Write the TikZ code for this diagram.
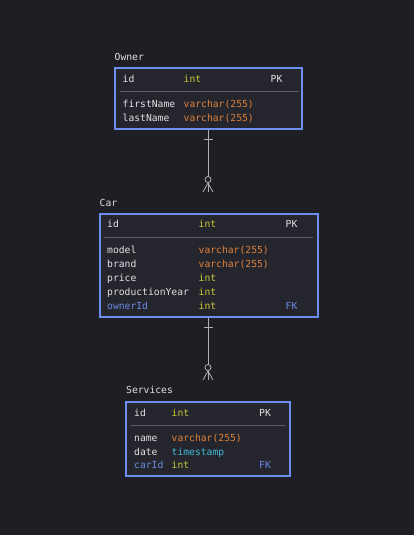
\documentclass[tikz,border=0pt]{standalone}
\usepackage{fontspec}
\setmonofont{DejaVu Sans Mono}
\usetikzlibrary{positioning}
\definecolor{bgdark}{HTML}{1E1F25}
\definecolor{boxfill}{HTML}{25262D}
\definecolor{boxline}{HTML}{6C8EF0}
\definecolor{rowtext}{HTML}{E2E2E2}
\definecolor{intcol}{HTML}{CACA36}
\definecolor{strcol}{HTML}{E0823A}
\definecolor{timecol}{HTML}{3FBCD6}
\definecolor{keycol}{HTML}{6A8AE6}
\definecolor{linkcol}{HTML}{B0B0B4}
\definecolor{sepcol}{HTML}{5C5D64}
\tikzset
{
    entity/.style   = {rectangle, draw=boxline, line width=2pt, fill=boxfill, inner sep=0pt},
    tabtitle/.style = {anchor=base west, inner sep=0pt, text=rowtext, font=\ttfamily\fontsize{9.7}{11}\selectfont},
    field/.style    = {tabtitle},
    inttype/.style  = {tabtitle, text=intcol},
    strtype/.style  = {tabtitle, text=strcol},
    timetype/.style = {tabtitle, text=timecol},
    fkey/.style     = {tabtitle, text=keycol},
    sep/.style      = {draw=sepcol, line width=0.8pt},
    link/.style     = {draw=linkcol, line width=0.8pt},
}
\begin{document}
\begin{tikzpicture}[x=1pt, y=-1pt]
		\fill[bgdark] (0,0) rectangle (414,535);
		\useasboundingbox (0,0) rectangle (414,535);
		
		% Owner
		\node[tabtitle] (ownerT) at (114.5,60) {Owner};
		\node[entity, minimum width=187pt, minimum height=61pt] (owner) at (208.3,98.5) {};
		\node[field] (o1) at (122.5,82) {id};
		\node[inttype] (o1t) at (183.5,82) {int};
		\node[field] (o1k) at (270.5,82) {PK};
		\draw[sep] (119.5,91.5) -- (299,91.5);
		\node[field] (o2) at (122.5,107) {firstName};
		\node[strtype] (o2t) at (183.5,107) {varchar(255)};
		\node[field] (o3) at (122.5,121) {lastName};
		\node[strtype] (o3t) at (183.5,121) {varchar(255)};
		
		% Car
		\node[tabtitle] (carT) at (99.5,206) {Car};
		\node[entity, minimum width=218pt, minimum height=103pt] (car) at (208.8,265.5) {};
		\node[field] (c1) at (107,227.7) {id};
		\node[inttype] (c1t) at (198.5,227.7) {int};
		\node[field] (c1k) at (285.5,227.7) {PK};
		\draw[sep] (104,237.5) -- (313,237.5);
		\node[field] (c2) at (107,253) {model};
		\node[strtype] (c2t) at (198.5,253) {varchar(255)};
		\node[field] (c3) at (107,267) {brand};
		\node[strtype] (c3t) at (198.5,267) {varchar(255)};
		\node[field] (c4) at (107,281) {price};
		\node[inttype] (c4t) at (198.5,281) {int};
		\node[field] (c5) at (107,295) {productionYear};
		\node[inttype] (c5t) at (198.5,295) {int};
		\node[fkey] (c6) at (107,309) {ownerId};
		\node[inttype] (c6t) at (198.5,309) {int};
		\node[fkey] (c6k) at (285.5,309) {FK};
		
		% Services
		\node[tabtitle] (servT) at (126,393.7) {Services};
		\node[entity, minimum width=164pt, minimum height=74pt] (serv) at (208,439) {};
		\node[field] (s1) at (134,416) {id};
		\node[inttype] (s1t) at (171.5,416) {int};
		\node[field] (s1k) at (259,416) {PK};
		\draw[sep] (130,425.5) -- (286,425.5);
		\node[field] (s2) at (134,441) {name};
		\node[strtype] (s2t) at (171.5,441) {varchar(255)};
		\node[field] (s3) at (134,455) {date};
		\node[timetype] (s3t) at (171.5,455) {timestamp};
		\node[fkey] (s4) at (134,468.7) {carId};
		\node[inttype] (s4t) at (171.5,468.7) {int};
		\node[fkey] (s4k) at (259,468.7) {FK};
		
		% Owner -- Car
		\coordinate (oc) at (208,192);
		\draw[link] (oc |- owner.south) -- (oc);
		\draw[link] (203.5,139) -- (213,139);
		\draw[link, fill=bgdark] (208,179.5) circle (3);
		\draw[link] (208,183) -- (203,192);
		\draw[link] (208,183) -- (213,192);
		
		% Car -- Services
		\coordinate (cs) at (208,380);
		\draw[link] (cs |- car.south) -- (cs);
		\draw[link] (203.5,327) -- (213,327);
		\draw[link, fill=bgdark] (208,367.5) circle (3);
		\draw[link] (208,371) -- (203,380);
		\draw[link] (208,371) -- (213,380);
		
		\end{tikzpicture}
\end{document}
